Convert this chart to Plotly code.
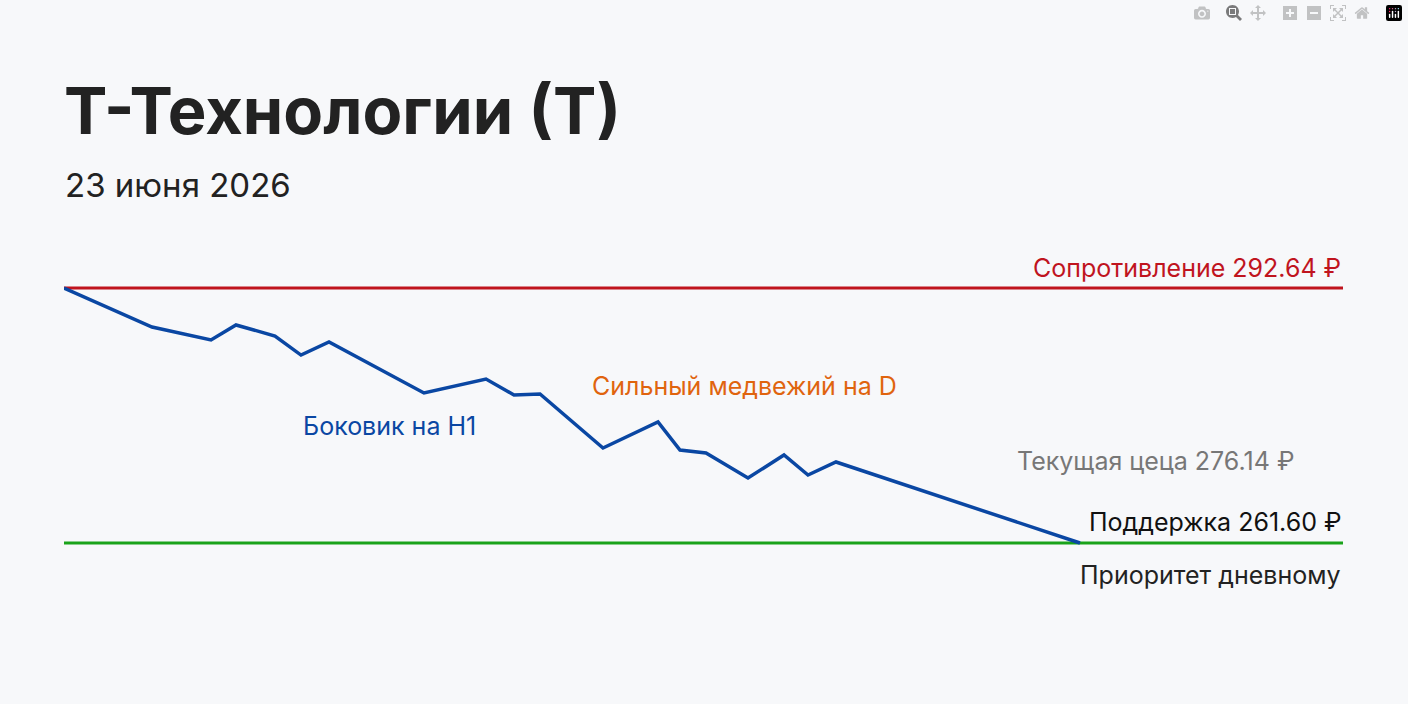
import plotly.graph_objects as go

steps = [0, 88, 147, 172, 211, 237, 265, 360, 422, 450, 476, 539, 594, 616, 642, 684, 720, 744, 772, 1016]
price = [292.64, 287.89, 286.31, 288.14, 286.80, 284.48, 286.07, 279.86, 281.56, 279.62,
         279.74, 273.16, 276.33, 272.92, 272.55, 269.51, 272.31, 269.88, 271.46, 261.60]
resistance = 292.64
support = 261.60
current = 276.14

X_MAX = 1279
PX_TOP, PX_BOT = 240, 580


def py(p):
    return (PX_BOT - p) / (PX_BOT - PX_TOP)


def px(p):
    return (p - 64) / X_MAX


fig = go.Figure()
fig.add_trace(go.Scatter(x=[0, X_MAX], y=[resistance, resistance], mode="lines",
                         line=dict(color="#c0141e", width=3), hoverinfo="skip"))
fig.add_trace(go.Scatter(x=[0, X_MAX], y=[support, support], mode="lines",
                         line=dict(color="#1aa31a", width=3), hoverinfo="skip"))
fig.add_trace(go.Scatter(x=steps, y=price, mode="lines",
                         line=dict(color="#0a47a3", width=3.5)))

font = "Inter, Noto Sans, sans-serif"
ann = [
    ("<b>Т-Технологии (Т)</b>", 62, 110, "left", "#222222", 65),
    ("23 июня 2026", 63, 185, "left", "#222222", 33),
    ("Сопротивление %.2f ₽" % resistance, 1343, 268, "right", "#c0141e", 25),
    ("Сильный медвежий на D", 590, 386, "left", "#e0640e", 25),
    ("Боковик на H1", 301, 426, "left", "#0a47a3", 25),
    ("Текущая цеца %.2f ₽" % current, 1296, 461, "right", "#777777", 25),
    ("Поддержка %.2f ₽" % support, 1343, 522, "right", "#111111", 25),
    ("Приоритет дневному", 1343, 575, "right", "#222222", 25),
]
for text, x, y, anchor, color, size in ann:
    fig.add_annotation(text=text, x=px(x), y=py(y), xref="paper", yref="paper",
                       xanchor=anchor, yanchor="middle", showarrow=False,
                       font=dict(family=font, size=size, color=color))

y0 = support - (PX_BOT - 543) / 8.215
y1 = resistance + (288 - PX_TOP) / 8.215
fig.update_layout(
    width=1408, height=704, showlegend=False,
    paper_bgcolor="#f7f8fa", plot_bgcolor="#f7f8fa",
    margin=dict(l=64, r=65, t=PX_TOP, b=704 - PX_BOT),
    xaxis=dict(range=[0, X_MAX], visible=False),
    yaxis=dict(range=[y0, y1], visible=False),
)
fig.write_html("out.html",
               post_script="document.body.style.margin='0';document.body.style.background='#f7f8fa';")
